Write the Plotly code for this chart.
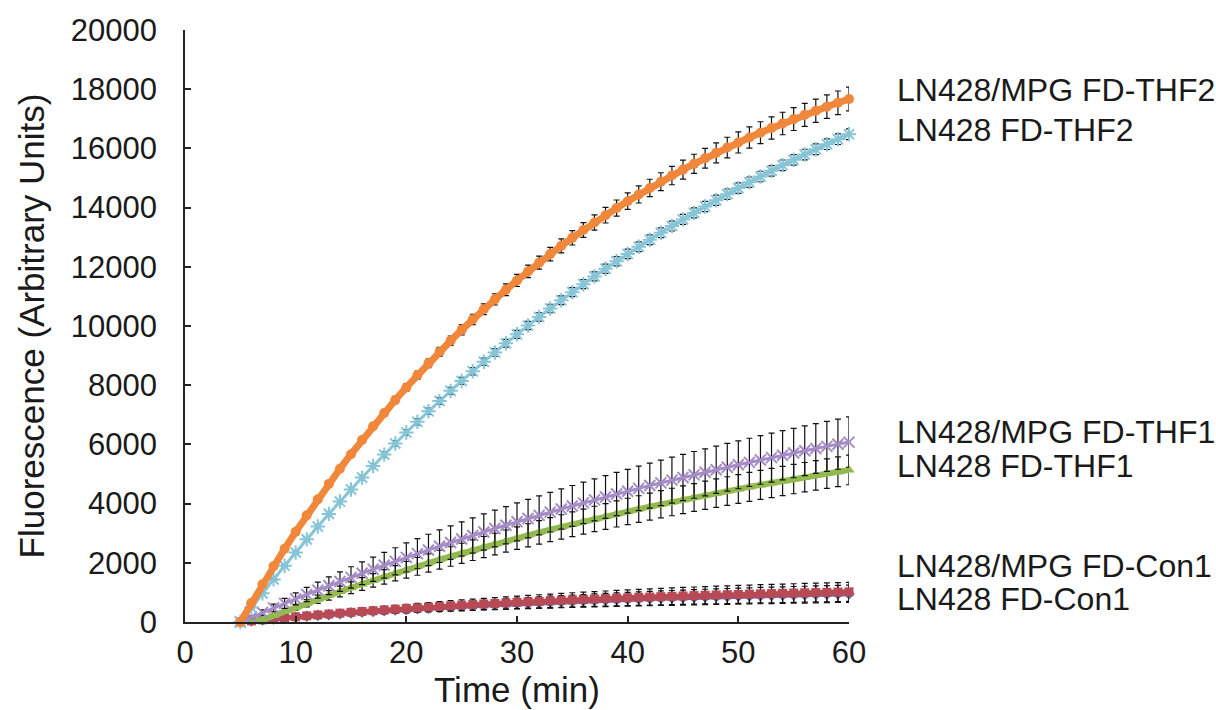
import plotly.graph_objects as go

time_min = list(range(5, 61))

series_names = ["LN428 FD-Con1", "LN428/MPG FD-Con1", "LN428 FD-THF1",
                "LN428/MPG FD-THF1", "LN428 FD-THF2", "LN428/MPG FD-THF2"]

con1 = [0, 35, 69, 102, 133, 164, 194, 224, 252, 279, 306, 332, 357, 381, 405, 428,
        450, 471, 492, 513, 532, 552, 570, 588, 606, 623, 639, 655, 671, 686, 700, 714,
        728, 742, 755, 767, 779, 791, 803, 814, 825, 835, 845, 855, 865, 874, 883, 892,
        900, 909, 917, 924, 932, 939, 946, 953]
con1_err = [0, 10, 18, 26, 34, 42, 50, 58, 66, 74, 82, 90, 97, 104, 111, 118, 125, 132,
            139, 146, 153, 159, 165, 171, 177, 183, 189, 195, 200, 205, 210, 215, 220,
            225, 230, 234, 238, 242, 246, 250, 254, 258, 261, 264, 267, 270, 273, 276,
            278, 280, 282, 284, 286, 287, 288, 290]

mpg_con1 = [0, 37, 73, 108, 142, 176, 208, 239, 269, 298, 327, 354, 381, 407, 432, 457,
            480, 503, 526, 547, 568, 589, 609, 628, 647, 665, 682, 699, 716, 732, 748,
            763, 778, 792, 806, 819, 832, 845, 857, 869, 881, 892, 903, 913, 923, 933,
            943, 952, 961, 970, 979, 987, 995, 1003, 1011, 1018]
mpg_con1_err = [0, 10, 20, 30, 40, 50, 60, 70, 80, 90, 100, 108, 116, 124, 132, 140, 148,
                156, 164, 172, 180, 186, 192, 198, 204, 210, 216, 222, 228, 234, 240, 245,
                250, 255, 260, 265, 270, 274, 278, 282, 286, 290, 293, 296, 299, 302, 305,
                308, 310, 312, 314, 316, 318, 319, 320, 320]

thf1 = [0, 40, 73, 217, 358, 497, 633, 768, 900, 1030, 1157, 1283, 1406, 1527, 1646,
        1764, 1879, 1992, 2104, 2213, 2321, 2427, 2531, 2633, 2734, 2833, 2930, 3026,
        3120, 3212, 3303, 3392, 3480, 3566, 3651, 3734, 3816, 3897, 3976, 4054, 4131,
        4206, 4280, 4353, 4424, 4494, 4564, 4631, 4698, 4764, 4828, 4892, 4954, 5015,
        5076, 5137]
thf1_err = [0, 20, 40, 60, 80, 100, 120, 140, 160, 180, 200, 215, 230, 245, 260, 280,
            300, 310, 320, 330, 340, 350, 358, 366, 374, 382, 390, 398, 405, 412, 418,
            424, 430, 436, 442, 447, 450, 455, 460, 464, 468, 472, 476, 480, 483, 486,
            489, 491, 493, 495, 496, 497, 498, 499, 500, 500]

mpg_thf1 = [0, 161, 320, 476, 630, 782, 931, 1078, 1224, 1366, 1507, 1646, 1782, 1917,
            2049, 2180, 2309, 2435, 2560, 2683, 2804, 2924, 3041, 3157, 3271, 3384, 3494,
            3603, 3711, 3817, 3921, 4024, 4125, 4224, 4323, 4419, 4515, 4609, 4701, 4792,
            4882, 4970, 5057, 5143, 5228, 5311, 5393, 5474, 5553, 5632, 5709, 5785, 5860,
            5934, 6007, 6078]
mpg_thf1_err = [0, 45, 90, 130, 170, 205, 240, 270, 300, 330, 360, 385, 410, 435, 460,
                490, 510, 530, 550, 565, 580, 595, 610, 620, 630, 640, 650, 660, 670, 680,
                690, 700, 710, 720, 730, 740, 750, 760, 770, 775, 780, 790, 795, 800, 805,
                810, 815, 820, 825, 830, 835, 838, 841, 844, 847, 850]

thf2 = [0, 489, 968, 1439, 1899, 2350, 2793, 3227, 3652, 4069, 4477, 4878, 5270, 5655,
        6032, 6402, 6764, 7119, 7467, 7809, 8143, 8471, 8792, 9107, 9416, 9719, 10015,
        10306, 10591, 10870, 11144, 11413, 11676, 11934, 12186, 12434, 12677, 12915,
        13149, 13377, 13602, 13821, 14037, 14248, 14454, 14658, 14857, 15051, 15243,
        15430, 15613, 15793, 15970, 16142, 16311, 16478]
thf2_err = [0, 10, 20, 30, 40, 50, 55, 60, 65, 70, 75, 80, 85, 90, 95, 100, 104, 108,
            112, 116, 120, 123, 126, 129, 132, 135, 138, 141, 144, 147, 150, 152, 154,
            156, 158, 160, 162, 164, 166, 168, 170, 171, 172, 173, 174, 175, 176, 177,
            178, 178, 179, 179, 180, 180, 180, 180]

mpg_thf2 = [0, 646, 1274, 1882, 2473, 3046, 3603, 4143, 4666, 5175, 5668, 6147, 6612,
            7063, 7500, 7925, 8337, 8737, 9125, 9502, 9868, 10222, 10567, 10900, 11225,
            11539, 11845, 12141, 12429, 12708, 12978, 13241, 13496, 13744, 13984, 14217,
            14443, 14663, 14875, 15082, 15283, 15478, 15667, 15850, 16028, 16200, 16368,
            16531, 16688, 16841, 16990, 17134, 17274, 17410, 17542, 17670]
mpg_thf2_err = [0, 15, 25, 35, 45, 55, 62, 70, 78, 85, 92, 100, 108, 115, 122, 130, 138,
                145, 152, 160, 168, 175, 182, 190, 198, 205, 212, 220, 228, 235, 242, 250,
                258, 265, 272, 280, 288, 295, 302, 310, 318, 325, 332, 340, 348, 355, 362,
                370, 375, 380, 385, 390, 393, 396, 398, 400]

label_y = [780, 1890, 5270, 6420, 16620, 17970]

x_ticks = [0, 10, 20, 30, 40, 50, 60]
y_ticks = [0, 2000, 4000, 6000, 8000, 10000, 12000, 14000, 16000, 18000, 20000]
y_ticktext = [str(v) for v in y_ticks]

values = [con1, mpg_con1, thf1, mpg_thf1, thf2, mpg_thf2]
errors = [con1_err, mpg_con1_err, thf1_err, mpg_thf1_err, thf2_err, mpg_thf2_err]
colors = ["#6A6AAE", "#B84A55", "#93B950", "#A58CC6", "#86C5D8", "#F0873A"]
symbols = ["diamond", "square", "triangle-up", "x-thin-open", "asterisk-open", "circle"]
sizes = [9, 9, 10, 11, 12, 10]
line_w = [5, 5, 6, 3, 3, 7]

fig = go.Figure()
for name, v, e, c, s, sz, lw in zip(series_names, values, errors, colors, symbols, sizes, line_w):
    marker = dict(color=c, size=sz, symbol=s)
    if s.endswith("open"):
        marker["line"] = dict(color=c, width=2)
    else:
        marker["line"] = dict(width=0)
    fig.add_trace(go.Scatter(
        x=time_min, y=v, name=name, mode="lines+markers",
        line=dict(color=c, width=lw), marker=marker, cliponaxis=False,
        error_y=dict(type="data", array=e, visible=True, color="#111111",
                     thickness=1.2, width=3),
        showlegend=False,
    ))

font_family = "Liberation Sans, Arial, sans-serif"
for name, yv in zip(series_names, label_y):
    fig.add_annotation(x=1.069, xref="paper", y=yv, yref="y", text=name,
                       showarrow=False, xanchor="left", yanchor="middle",
                       font=dict(size=32, color="#1a1a1a", family=font_family))

fig.update_layout(
    width=1216, height=710,
    margin=dict(l=185, r=367, t=30, b=88),
    paper_bgcolor="white", plot_bgcolor="white",
    font=dict(family=font_family, size=29, color="#1a1a1a"),
)
fig.update_xaxes(range=[0, 60], tickvals=x_ticks,
                 showline=True, linecolor="#222222", linewidth=1.5,
                 ticks="inside", ticklen=6, tickwidth=1.5, tickcolor="#222222",
                 showgrid=False, zeroline=False, ticklabelstandoff=2,
                 title=dict(text="Time (min)", standoff=4),
                 tickfont=dict(size=31, family=font_family, color="#1a1a1a"))
fig.update_yaxes(range=[0, 20000], tickvals=y_ticks, ticktext=y_ticktext,
                 showline=True, linecolor="#222222", linewidth=1.5,
                 ticks="inside", ticklen=6, tickwidth=1.5, tickcolor="#222222",
                 showgrid=False, zeroline=False, ticklabelstandoff=20,
                 title=dict(text="Fluorescence (Arbitrary Units)", standoff=16),
                 tickfont=dict(size=31, family=font_family, color="#1a1a1a"))

fig.write_html("out.html")
